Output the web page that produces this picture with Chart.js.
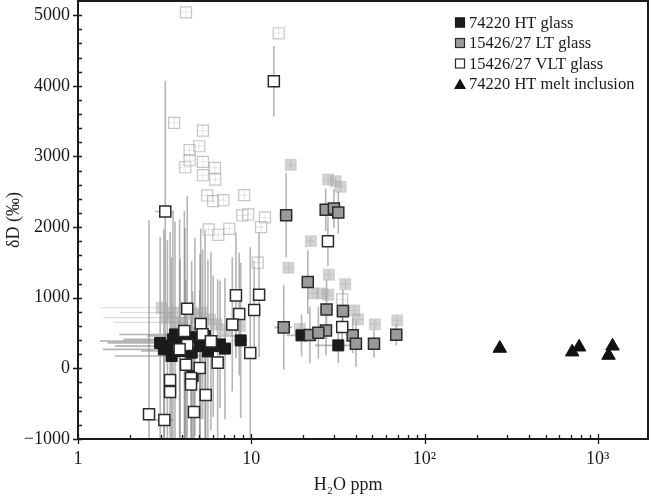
<!DOCTYPE html>
<html>
<head>
<meta charset="utf-8">
<script src="https://cdn.jsdelivr.net/npm/chart.js@4.4.0/dist/chart.umd.min.js"></script>
<style>
html, body { margin: 0; padding: 0; background: #fff; }
#wrap { width: 652px; height: 502px; position: relative; }
</style>
</head>
<body>
<div id="wrap"><canvas id="chart"></canvas></div>
<script>
// 74220 HT glass
const htX = [3.13, 3.28, 3.47, 3.53, 3.88, 4.14, 4.53, 4.59, 5.06, 5.41, 6.03, 6.60, 8.69, 19.5, 31.8, 2.98, 3.63, 4.73, 5.62, 7.05];
const htY = [269, 315, 174, 410, 245, 386, 222, -109, 315, 457, 315, 339, 396, 467, 325, 360, 480, 440, 240, 280];
const htErrY = [1700, 1500, 1400, 1800, 1300, 1600, 1300, 1200, 1300, 1500, 1000, 900, 1100, 300, 250, 1500, 1600, 1400, 1300, 1000];
const htErrX = [1.74, 1.65, 1.84, 1.7, 1.57, 2.8, 0.4, 0.3, 0.5, 2.9, 0.4, 0.5, 0.8, 3.5, 8.5, 1.5, 1.9, 0.5, 0.5, 0.6];

// 15426/27 LT glass
const ltX = [15.9, 26.9, 30.0, 31.8, 21.2, 27.2, 33.8, 27.0, 38.5, 40.2, 51.1, 68.7, 15.4, 21.8, 24.4];
const ltY = [2168, 2245, 2263, 2206, 1221, 834, 810, 537, 467, 349, 349, 477, 580, 471, 505];
const ltErrY = [600, 300, 280, 300, 450, 420, 300, 350, 250, 330, 200, 150, 600, 400, 370];
const ltErrX = [1.3, 2.2, 2.4, 2.5, 1.7, 2.2, 2.7, 2.2, 3.1, 3.2, 4.1, 5.5, 1.8, 1.7, 2.0];

// 15426/27 VLT glass
const vltX = [8.16, 11.1, 4.27, 8.52, 10.4, 7.77, 5.11, 4.11, 5.24, 5.85, 4.27, 3.86, 9.87, 6.40, 4.20, 5.04, 4.49, 3.40, 4.49, 3.40, 5.46, 2.57, 4.67, 3.15, 3.19, 13.5, 27.7, 33.5];
const vltY = [1033, 1042, 844, 768, 825, 622, 627, 528, 481, 382, 330, 269, 216, 81, 52, 4, -137, -165, -230, -335, -378, -651, -618, -731, 2221, 4064, 1800, 584];
const vltErrY = [890, 880, 1600, 870, 700, 950, 1350, 1700, 1200, 1260, 1500, 1840, 1500, 1180, 1200, 1100, 1000, 2100, 900, 1000, 900, 2750, 1200, 1000, 1850, 500, 350, 250];
const vltErrX = [0.5, 0.7, 0.3, 0.5, 0.6, 0.5, 0.3, 0.3, 0.3, 0.4, 0.3, 0.3, 0.6, 0.4, 0.3, 0.3, 0.3, 0.3, 0.3, 0.3, 0.4, 0.2, 0.3, 0.4, 0.4, 0.9, 1.8, 2.2];

// 74220 HT melt inclusion
const miX = [272, 712, 781, 1154, 1217];
const miY = [283, 231, 301, 184, 315];

// faded points (other analyses, shown pale)
const paleVltX = [4.20, 14.4, 3.59, 5.26, 4.41, 5.01, 4.16, 4.41, 5.26, 6.17, 5.26, 6.20, 5.57, 6.03, 6.90, 9.11, 8.87, 9.61, 12.0, 11.4, 5.68, 6.45, 7.47, 10.9, 33.5];
const paleVltY = [5040, 4743, 3475, 3366, 3088, 3144, 2847, 2946, 2923, 2839, 2734, 2673, 2447, 2366, 2380, 2451, 2164, 2178, 2136, 1999, 1966, 1891, 1976, 1495, 976];
const paleVltErrY = [70, 70, 70, 70, 60, 60, 70, 60, 70, 70, 60, 70, 70, 60, 70, 70, 70, 70, 70, 70, 70, 60, 70, 70, 70];
const paleVltErrX = [0.3, 0.9, 0.3, 0.3, 0.3, 0.3, 0.3, 0.3, 0.3, 0.4, 0.3, 0.4, 0.4, 0.4, 0.4, 0.6, 0.6, 0.6, 0.8, 0.7, 0.4, 0.4, 0.5, 0.7, 2.1];

const paleLtX = [16.9, 27.8, 30.7, 32.8, 22.1, 16.4, 28.1, 34.9, 22.8, 25.5, 27.8, 39.3, 41.4, 51.7, 69.6, 19.1,
                 3.04, 3.25, 3.55, 3.80, 4.60, 5.17, 5.78, 6.31, 7.21, 8.61, 4.00];
const paleLtY = [2881, 2673, 2649, 2570, 1800, 1424, 1325, 1192, 1061, 1061, 1042, 820, 693, 622, 679, 560,
                 858, 717, 788, 650, 760, 788, 693, 622, 552, 598, 640];
const paleLtErrY = [70, 70, 70, 70, 70, 70, 70, 70, 70, 70, 70, 70, 70, 70, 70, 70,
                    90, 90, 90, 90, 90, 90, 90, 90, 90, 90, 90];
const paleLtErrX = [1.1, 1.8, 2.0, 2.1, 1.4, 1.1, 1.8, 2.2, 1.5, 1.6, 1.8, 2.5, 2.7, 3.3, 4.5, 1.2,
                    1.7, 1.85, 1.8, 2.2, 0.4, 0.4, 0.4, 0.4, 0.5, 0.6, 0.4];

const xTickVals = [1, 10, 100, 1000];
const xTickLabels = ['1', '10', '10²', '10³'];
const yTickVals = [-1000, 0, 1000, 2000, 3000, 4000, 5000];
const yTickLabels = ['−1000', '0', '1000', '2000', '3000', '4000', '5000'];
const xTitle = 'H₂O ppm';

const legendLabels = ['74220 HT glass', '15426/27 LT glass', '15426/27 VLT glass', '74220 HT melt inclusion'];

const SERIF = "'Liberation Serif', 'Times New Roman', serif";
Chart.defaults.font.family = SERIF;
Chart.defaults.color = '#1a1a1a';

function pts(xs, ys) {
    return xs.map((x, i) => ({ x: x, y: ys[i] }));
}

// error bars drawn from the data, behind the markers
const errorBars = {
    id: 'errorBars',
    beforeDatasetsDraw(chart) {
        const ctx = chart.ctx;
        const sx = chart.scales.x, sy = chart.scales.y, a = chart.chartArea;
        ctx.save();
        ctx.beginPath();
        ctx.rect(a.left, a.top, a.width, a.height);
        ctx.clip();
        // pale ones first
        const list = chart.data.datasets.slice().sort((p, q) => (q.order || 0) - (p.order || 0));
        list.forEach(ds => {
            if (!ds.errY) return;
            ctx.strokeStyle = ds.errColor;
            ctx.lineWidth = ds.errWidth;
            ctx.beginPath();
            ds.data.forEach((p, i) => {
                const px = sx.getPixelForValue(p.x);
                const py = sy.getPixelForValue(p.y);
                const ey = ds.errY[i];
                ctx.moveTo(px, sy.getPixelForValue(p.y + ey));
                ctx.lineTo(px, sy.getPixelForValue(p.y - ey));
                const ex = ds.errX ? ds.errX[i] : 0;
                if (ex) {
                    ctx.moveTo(sx.getPixelForValue(Math.max(p.x - ex, 0.5)), py);
                    ctx.lineTo(sx.getPixelForValue(p.x + ex), py);
                }
            });
            ctx.stroke();
        });
        ctx.restore();
    }
};

// frame, inward tick marks and x title (sits a bit left of centre in the original)
const axisFrame = {
    id: 'axisFrame',
    afterDraw(chart) {
        const ctx = chart.ctx;
        const sx = chart.scales.x, sy = chart.scales.y, a = chart.chartArea;
        ctx.save();
        ctx.strokeStyle = '#1a1a1a';
        ctx.lineWidth = 2;
        ctx.strokeRect(a.left, a.top, a.width, a.height);
        ctx.lineWidth = 1.3;
        ctx.beginPath();
        yTickVals.forEach(v => {
            const py = Math.round(sy.getPixelForValue(v)) + 0.5;
            ctx.moveTo(a.left - 5, py);
            ctx.lineTo(a.left + 4, py);
        });
        for (let v = -800; v < 5200; v += 200) {
            if (v % 1000 === 0) continue;
            const py = Math.round(sy.getPixelForValue(v)) + 0.5;
            ctx.moveTo(a.left, py);
            ctx.lineTo(a.left + 4, py);
        }
        xTickVals.forEach(v => {
            const px = Math.round(sx.getPixelForValue(v)) + 0.5;
            ctx.moveTo(px, a.bottom + 5);
            ctx.lineTo(px, a.bottom - 5);
        });
        xTickVals.forEach(d => {
            for (let k = 2; k <= 9; k++) {
                const v = d * k;
                if (v > sx.max) break;
                const px = Math.round(sx.getPixelForValue(v)) + 0.5;
                ctx.moveTo(px, a.bottom);
                ctx.lineTo(px, a.bottom - 4);
            }
        });
        ctx.stroke();

        ctx.fillStyle = '#1a1a1a';
        ctx.font = '18px ' + SERIF;
        ctx.textAlign = 'center';
        ctx.textBaseline = 'alphabetic';
        ctx.fillText(xTitle, a.left + a.width * 0.474, 490);
        ctx.restore();
    }
};

// legend inside the plot, top right
const insideLegend = {
    id: 'insideLegend',
    afterDraw(chart) {
        const ctx = chart.ctx;
        const x0 = 455, tx = 469, rows = [22.5, 43, 63.5, 84];
        ctx.save();
        ctx.font = '16.5px ' + SERIF;
        ctx.textBaseline = 'middle';
        ctx.fillStyle = '#1a1a1a';
        chart.data.datasets.filter(d => d.inLegend).forEach((ds, i) => {
            const cy = rows[i];
            ctx.lineWidth = 1.2;
            if (ds.pointStyle === 'triangle') {
                ctx.fillStyle = ds.backgroundColor;
                ctx.beginPath();
                ctx.moveTo(x0 + 5, cy - 5.5);
                ctx.lineTo(x0 + 11, cy + 5);
                ctx.lineTo(x0 - 1, cy + 5);
                ctx.closePath();
                ctx.fill();
            } else {
                ctx.fillStyle = ds.backgroundColor;
                ctx.strokeStyle = ds.borderColor;
                ctx.fillRect(x0, cy - 5, 10, 10);
                ctx.strokeRect(x0 + 0.5, cy - 4.5, 9, 9);
            }
            ctx.fillStyle = '#1a1a1a';
            ctx.fillText(legendLabels[i], tx, cy + 1);
        });
        ctx.restore();
    }
};

const datasets = [
    {
        label: legendLabels[0], inLegend: true, order: 4,
        data: pts(htX, htY), errY: htErrY, errX: htErrX, errColor: 'rgba(120,120,120,0.55)', errWidth: 1.6,
        pointStyle: 'rect', pointRadius: 7.8, backgroundColor: '#1b1b1b', borderColor: '#1b1b1b', borderWidth: 1
    },
    {
        label: legendLabels[1], inLegend: true, order: 3,
        data: pts(ltX, ltY), errY: ltErrY, errX: ltErrX, errColor: 'rgba(120,120,120,0.55)', errWidth: 1.6,
        pointStyle: 'rect', pointRadius: 7.8, backgroundColor: '#9a9a9a', borderColor: '#2b2b2b', borderWidth: 1.5
    },
    {
        label: legendLabels[2], inLegend: true, order: 1,
        data: pts(vltX, vltY), errY: vltErrY, errX: vltErrX, errColor: 'rgba(120,120,120,0.55)', errWidth: 1.6,
        pointStyle: 'rect', pointRadius: 7.8, backgroundColor: '#ffffff', borderColor: '#2b2b2b', borderWidth: 1.5
    },
    {
        label: legendLabels[3], inLegend: true, order: 2,
        data: pts(miX, miY),
        pointStyle: 'triangle', pointRadius: 7.8, backgroundColor: '#111111', borderColor: '#111111', borderWidth: 1
    },
    {
        label: 'pale LT', order: 6,
        data: pts(paleLtX, paleLtY), errY: paleLtErrY, errX: paleLtErrX, errColor: 'rgba(150,150,150,0.35)', errWidth: 1.2,
        pointStyle: 'rect', pointRadius: 7.8, backgroundColor: 'rgba(170,170,170,0.5)', borderColor: 'rgba(170,170,170,0.35)', borderWidth: 1
    },
    {
        label: 'pale VLT', order: 5,
        data: pts(paleVltX, paleVltY), errY: paleVltErrY, errX: paleVltErrX, errColor: 'rgba(150,150,150,0.3)', errWidth: 1,
        pointStyle: 'rect', pointRadius: 7.8, backgroundColor: 'rgba(255,255,255,0.25)', borderColor: 'rgba(150,150,150,0.55)', borderWidth: 1.2
    }
];

new Chart(document.getElementById('chart'), {
    type: 'scatter',
    data: { datasets: datasets },
    options: {
        responsive: true,
        maintainAspectRatio: false,
        animation: false,
        events: [],
        layout: { autoPadding: false, padding: { top: 1, right: 4, left: 0, bottom: 0 } },
        plugins: {
            legend: { display: false },
            tooltip: { enabled: false }
        },
        scales: {
            x: {
                type: 'logarithmic',
                min: 1,
                max: 1950,
                grid: { display: false, drawTicks: false },
                border: { display: false },
                afterBuildTicks: s => { s.ticks = xTickVals.map(v => ({ value: v })); },
                afterFit: s => { s.height = 63; s.paddingLeft = 0; s.paddingRight = 0; },
                ticks: {
                    autoSkip: false,
                    maxRotation: 0,
                    padding: 9,
                    font: { size: 18 },
                    color: '#1a1a1a',
                    callback: (v, i) => xTickLabels[i]
                },
                title: { display: false }
            },
            y: {
                type: 'linear',
                min: -1000,
                max: 5200,
                grid: { display: false, drawTicks: false },
                border: { display: false },
                afterBuildTicks: s => { s.ticks = yTickVals.map(v => ({ value: v })); },
                afterFit: s => { s.width = 78; s.paddingTop = 0; s.paddingBottom = 0; },
                ticks: {
                    autoSkip: false,
                    padding: 8,
                    font: { size: 18 },
                    color: '#1a1a1a',
                    callback: (v, i) => yTickLabels[i]
                },
                title: {
                    display: true,
                    text: 'δD (‰)',
                    font: { size: 18 },
                    color: '#1a1a1a',
                    padding: { top: 3, bottom: 0 }
                }
            }
        }
    },
    plugins: [errorBars, axisFrame, insideLegend]
});
</script>
</body>
</html>
